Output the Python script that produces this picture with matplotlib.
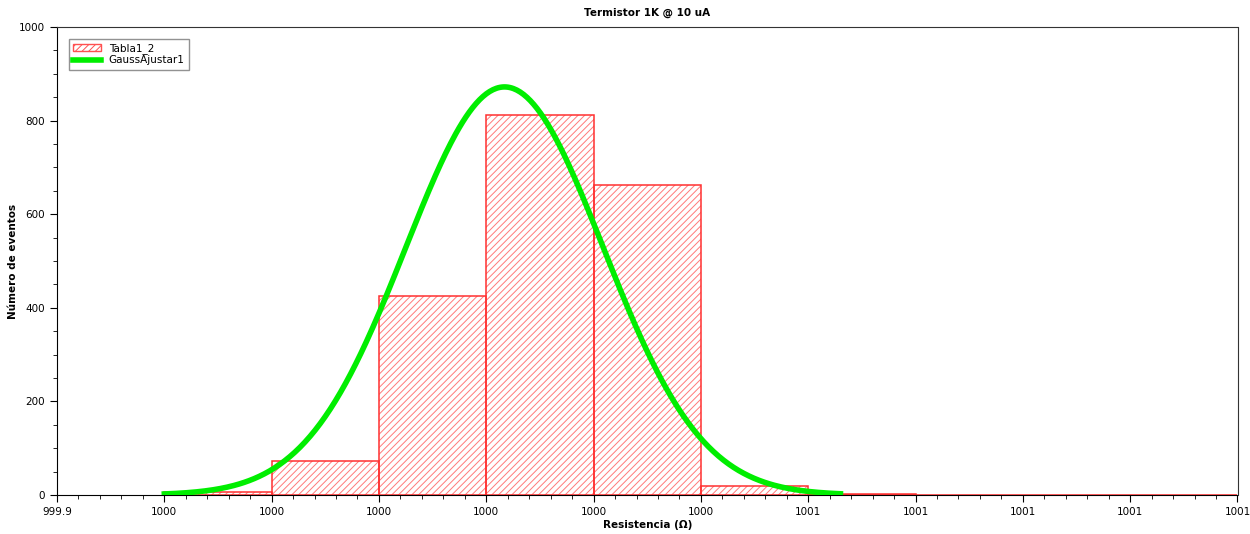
import numpy as np
import matplotlib
matplotlib.use("Agg")
import matplotlib.pyplot as plt
from matplotlib.ticker import MultipleLocator

# histogram data (bin left edges, counts)
bin_left = [1000.0, 1000.1, 1000.2, 1000.3, 1000.4, 1000.5, 1000.6, 1000.7, 1000.8, 1000.9]
counts = [7, 73, 426, 813, 662, 19, 3, 0, 0, 0]
bin_width = 0.1

# gaussian fit parameters
g_amp = 872.0
g_mu = 1000.317
g_sigma = 0.092
g_range = [1000.0, 1000.63]

xticks = [999.9, 1000.0, 1000.1, 1000.2, 1000.3, 1000.4, 1000.5,
          1000.6, 1000.7, 1000.8, 1000.9, 1001.0]
xtick_labels = ["999.9", "1000", "1000", "1000", "1000", "1000", "1000",
                "1001", "1001", "1001", "1001", "1001"]
yticks = [0, 200, 400, 600, 800, 1000]

plt.rcParams['font.family'] = ['DejaVu Sans']
plt.rcParams['hatch.linewidth'] = 0.7

fig = plt.figure(figsize=(12.5, 5.34), dpi=100)
ax = fig.add_axes([0.0456, 0.073, 0.9444, 0.8764])

# hatched bars + outline
hb = ax.bar(bin_left, counts, width=bin_width, align='edge', fill=False,
            hatch='/////', edgecolor='#ff7a7a', linewidth=0.0, label='Tabla1_2')
ax.bar(bin_left, counts, width=bin_width, align='edge', fill=False,
       edgecolor='#ff3030', linewidth=1.1)

xg = np.linspace(g_range[0], g_range[1], 400)
yg = g_amp * np.exp(-0.5 * ((xg - g_mu) / g_sigma) ** 2)
gl, = ax.plot(xg, yg, color='#00ee00', lw=4, label='GaussAjustar1', zorder=5)

ax.set_xlim(999.9, 1001.0)
ax.set_ylim(0, 1000)
ax.set_xticks(xticks)
ax.set_xticklabels(xtick_labels)
ax.set_yticks(yticks)
ax.xaxis.set_minor_locator(MultipleLocator(0.02))
ax.yaxis.set_minor_locator(MultipleLocator(50))
ax.tick_params(which='both', direction='out', labelsize=7.5)
ax.tick_params(which='major', length=5)
ax.tick_params(which='minor', length=3)

for s in ['top', 'right']:
    ax.spines[s].set_color('#333333')

ax.set_title('Termistor 1K @ 10 uA', fontsize=7.5, fontweight='bold', pad=8)
ax.set_xlabel('Resistencia (Ω)', fontsize=7.5, fontweight='bold', labelpad=2)
ax.set_ylabel('Número de eventos', fontsize=7.5, fontweight='bold', labelpad=1)

leg = ax.legend([hb, gl], ['Tabla1_2', 'GaussAjustar1'], loc='upper left',
                fontsize=7.5, frameon=True, fancybox=False,
                edgecolor='#777777', borderpad=0.4, handlelength=2.6,
                labelspacing=0.1, bbox_to_anchor=(0.006, 0.985))
leg.get_frame().set_linewidth(1.0)
for h in leg.legend_handles:
    if hasattr(h, 'get_hatch') and h.get_hatch():
        h.set_edgecolor('#ff5050')
        h.set_linewidth(1.0)

fig.savefig('out.png', dpi=100)
